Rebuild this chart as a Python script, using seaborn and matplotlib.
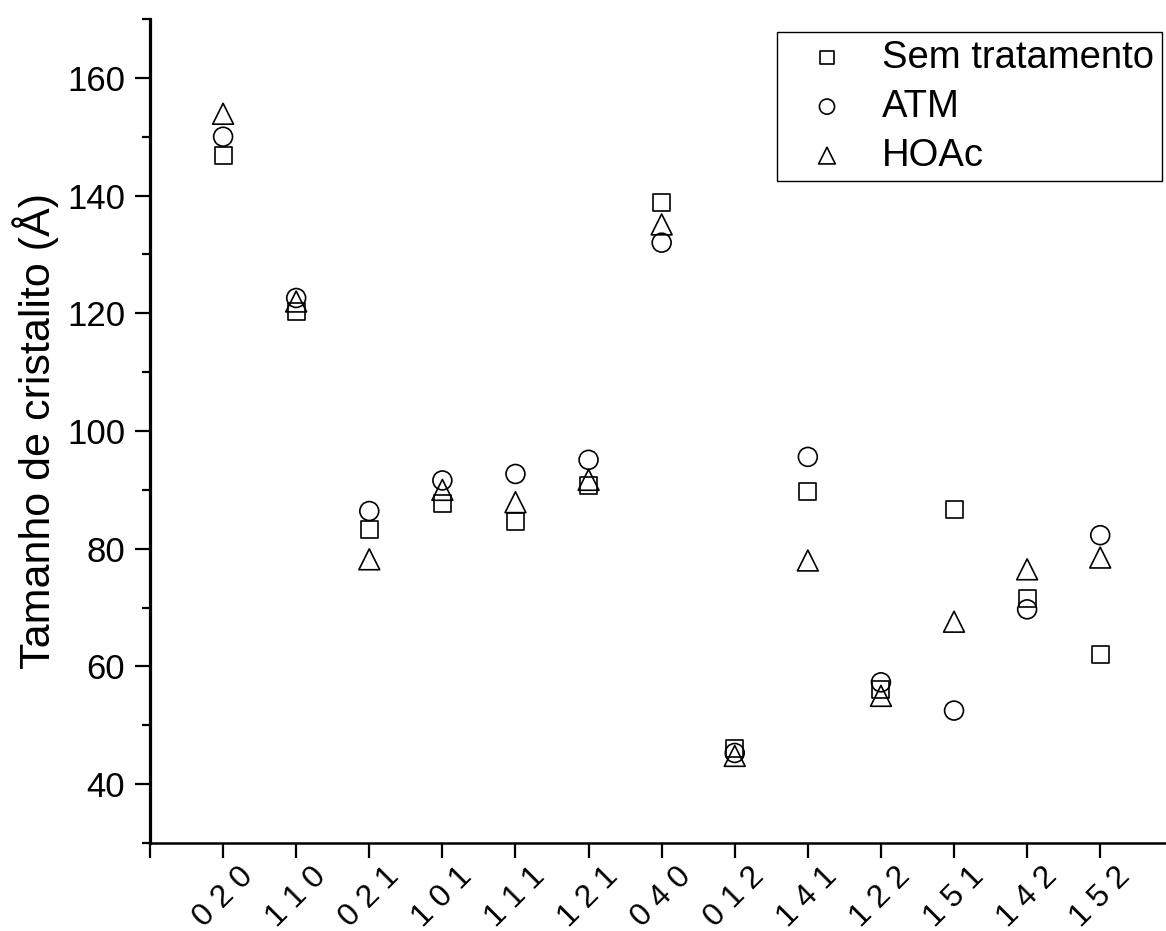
import matplotlib
matplotlib.use("Agg")
import matplotlib.pyplot as plt
import seaborn as sns
import pandas as pd
from matplotlib.ticker import MultipleLocator

categorias = ["0 2 0", "1 1 0", "0 2 1", "1 0 1", "1 1 1", "1 2 1", "0 4 0",
              "0 1 2", "1 4 1", "1 2 2", "1 5 1", "1 4 2", "1 5 2"]
sem_tratamento = [146.8, 120.3, 83.2, 87.6, 84.7, 90.7, 138.9, 46.0, 89.7, 56.0, 86.7, 71.6, 62.0]
atm = [150.0, 122.6, 86.4, 91.6, 92.7, 95.1, 132.0, 45.3, 95.6, 57.3, 52.5, 69.7, 82.3]
hoac = [153.9, 122.0, 78.2, 90.0, 87.9, 91.7, 135.1, 44.8, 78.0, 55.0, 67.6, 76.5, 78.5]
series_nomes = ["Sem tratamento", "ATM", "HOAc"]

sns.set_style("ticks")
plt.rcParams["font.family"] = ["Liberation Sans", "DejaVu Sans"]
for k in ["text.color", "axes.labelcolor", "xtick.color", "ytick.color",
          "axes.edgecolor"]:
    plt.rcParams[k] = "black"

fig = plt.figure(figsize=(11.66, 9.31), dpi=100)
ax = fig.add_axes([150 / 1166, 1 - 843 / 931, 1 - 150 / 1166, (843 - 19) / 931])

estilos = {
    "Sem tratamento": dict(marker="s", s=150),
    "ATM": dict(marker="o", s=185),
    "HOAc": dict(marker="^", s=225),
}
valores = {"Sem tratamento": sem_tratamento, "ATM": atm, "HOAc": hoac}

df = pd.DataFrame({"hkl": categorias})
for nome in series_nomes:
    df[nome] = valores[nome]

for nome in series_nomes:
    sns.scatterplot(data=df, x="hkl", y=nome, ax=ax, label=nome,
                    facecolor="none", edgecolor="black", linewidth=1.2,
                    **estilos[nome])

ax.set_xlim(-1, 12.9)
ax.set_ylim(30, 170)
ax.set_xticks(range(-1, len(categorias)))
ax.set_xticklabels([""] + categorias, rotation=45, ha="center", va="top",
                   fontsize=23)
ax.yaxis.set_major_locator(MultipleLocator(20))
ax.yaxis.set_minor_locator(MultipleLocator(10))
ax.set_yticks(range(40, 161, 20))
ax.tick_params(axis="y", which="major", length=11, width=1.6, labelsize=25, pad=7)
ax.tick_params(axis="y", which="minor", length=6, width=1.6)
ax.tick_params(axis="x", which="major", length=11, width=1.6, pad=2)
ax.set_xlabel("")
ax.set_ylabel("Tamanho de cristalito (Å)", fontsize=31, labelpad=6)

for lado in ["top", "right"]:
    ax.spines[lado].set_visible(False)
ax.spines["left"].set_linewidth(2.3)
ax.spines["bottom"].set_linewidth(1.8)

handles, labels = ax.get_legend_handles_labels()
leg = ax.legend(handles, labels, loc="upper right",
                bbox_to_anchor=(1162 / 1166, 1 - 32 / 931),
                bbox_transform=fig.transFigure, borderaxespad=0,
                fontsize=27.5, markerscale=0.8, frameon=True, fancybox=False,
                edgecolor="black", framealpha=1, handletextpad=0.35,
                labelspacing=0.34, borderpad=0.2, handlelength=2.2)
leg.get_frame().set_linewidth(1.0)

fig.savefig("out.png", dpi=100)
